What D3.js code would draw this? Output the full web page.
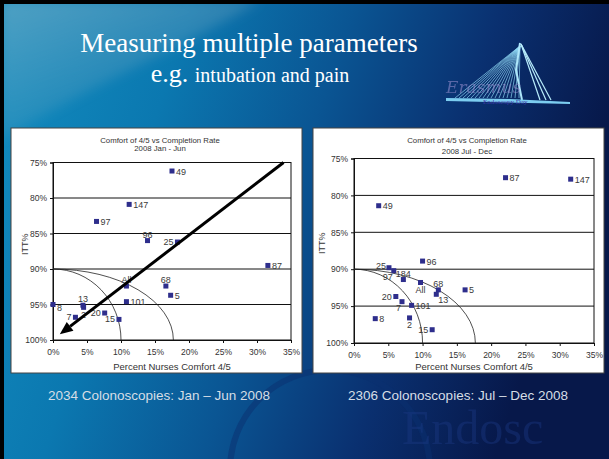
<!DOCTYPE html>
<html>
<head>
<meta charset="utf-8">
<script src="https://cdn.jsdelivr.net/npm/d3@7"></script>
<style>
body { margin: 0; background: #000; }
svg { display: block; }
text { font-family: "Liberation Sans", Arial, sans-serif; }
</style>
</head>
<body>
<script>
let width = 609, height = 459

// axis ticks (percent)
let xTicks = [0, 5, 10, 15, 20, 25, 30, 35]
let yTicks = [75, 80, 85, 90, 95, 100]

// Jan - Jun 2008: site, % nurses comfort 4/5, ITT %
let janSites   = ["49", "147", "97", "96", "25", "87", "68", "All", "5", "101", "13", "2", "8", "7", "20", "15"]
let janComfort = [17.5, 11.2, 6.4, 13.9, 18.3, 31.6, 16.6, 10.8, 17.3, 10.8, 4.4, 4.5, 0, 3.3, 7.6, 9.7]
let janItt     = [76.2, 80.9, 83.3, 86.0, 86.2, 89.5, 92.4, 92.4, 93.7, 94.6, 95.1, 95.4, 95.0, 96.8, 96.2, 97.1]

// Jul - Dec 2008
let julSites   = ["87", "147", "49", "96", "25", "97", "184", "All", "68", "5", "13", "20", "7", "101", "8", "2", "15"]
let julComfort = [22.1, 31.6, 3.6, 10.0, 5.1, 5.8, 7.2, 9.7, 12.3, 16.2, 12.0, 6.1, 7.0, 8.4, 3.1, 8.1, 11.4]
let julItt     = [77.6, 77.8, 81.4, 88.9, 89.8, 90.2, 91.4, 91.8, 92.8, 92.8, 93.4, 93.7, 94.4, 94.9, 96.7, 96.6, 98.2]

// reference curves: start at (0%, 90%) and meet 100% at these comfort values
let arcEnds = [10, 17.7]
let arcTop = 90

// arrow drawn on the first chart (comfort %, ITT %)
let arrowFrom = [33.9, 75.0]
let arrowTo = [1.0, 99.2]

let svg = d3.select("body").append("svg")
    .attr("width", width)
    .attr("height", height)

// ---------- slide background ----------
let defs = svg.append("defs")
let bg = defs.append("linearGradient").attr("id", "bg").attr("x1", 0).attr("x2", 1).attr("y1", 0).attr("y2", 0.25)
bg.append("stop").attr("offset", "0%").attr("stop-color", "#138ec0")
bg.append("stop").attr("offset", "30%").attr("stop-color", "#0b78b0")
bg.append("stop").attr("offset", "55%").attr("stop-color", "#0a5593")
bg.append("stop").attr("offset", "78%").attr("stop-color", "#0a3070")
bg.append("stop").attr("offset", "100%").attr("stop-color", "#07184a")

let glow = defs.append("linearGradient").attr("id", "glow").attr("x1", 0).attr("x2", 0.6).attr("y1", 0).attr("y2", 1)
glow.append("stop").attr("offset", "0%").attr("stop-color", "#9ab8c8").attr("stop-opacity", 0.45)
glow.append("stop").attr("offset", "100%").attr("stop-color", "#9ab8c8").attr("stop-opacity", 0)

let blur = defs.append("filter").attr("id", "soft")
blur.append("feGaussianBlur").attr("stdDeviation", 6)

svg.append("rect").attr("width", width).attr("height", height).attr("fill", "url(#bg)")
svg.append("path")
    .attr("d", "M0,0 L260,0 C200,40 120,70 0,140 Z")
    .attr("fill", "url(#glow)")
    .attr("filter", "url(#soft)")

// watermark
svg.append("circle").attr("cx", 330).attr("cy", 470).attr("r", 100)
    .attr("fill", "none").attr("stroke", "#0a2f70").attr("stroke-width", 6).attr("opacity", 0.5)
svg.append("text").attr("x", 402).attr("y", 444)
    .style("font-family", "'Liberation Serif', serif").style("font-size", "48px")
    .attr("fill", "#1c3a86").attr("opacity", 0.4)
    .text("Endosc")

// black frame on top and left
svg.append("rect").attr("width", width).attr("height", 4).attr("fill", "#000")
svg.append("rect").attr("width", 4).attr("height", height).attr("fill", "#000")

// ---------- title ----------
svg.append("text").attr("x", 249).attr("y", 52).attr("text-anchor", "middle")
    .style("font-family", "'Liberation Serif', 'Times New Roman', serif").style("font-size", "27px")
    .attr("fill", "#fff").text("Measuring multiple parameters")
let sub = svg.append("text").attr("x", 250).attr("y", 82).attr("text-anchor", "middle")
    .style("font-family", "'Liberation Serif', 'Times New Roman', serif").attr("fill", "#fff")
sub.append("tspan").style("font-size", "26px").text("e.g. ")
sub.append("tspan").style("font-size", "20px").text("intubation and pain")

// ---------- bridge logo ----------
let logo = svg.append("g").attr("class", "logo")
let deckXs = d3.range(455, 522, 4)
logo.selectAll("line.cable").data(deckXs).enter().append("line")
    .attr("x1", 520).attr("y1", 46)
    .attr("x2", d => d).attr("y2", 98)
    .attr("stroke", "#8fd8f4").attr("stroke-width", 0.8).attr("opacity", 0.85)
logo.selectAll("line.back").data([540, 546, 551]).enter().append("line")
    .attr("x1", 521).attr("y1", 44)
    .attr("x2", d => d).attr("y2", 100)
    .attr("stroke", "#b8ecfb").attr("stroke-width", 1.2)
logo.append("path").attr("d", "M520,43 L516,70 L522,100")
    .attr("fill", "none").attr("stroke", "#aee6fa").attr("stroke-width", 2)
logo.append("path").attr("d", "M446,98 L510,99 L570,102 L570,104 L446,101 Z")
    .attr("fill", "#7ccdf0")
logo.append("text").attr("x", 446).attr("y", 93)
    .style("font-family", "'DejaVu Serif', serif").style("font-style", "italic").style("font-size", "17px")
    .attr("fill", "#9a90d0").attr("opacity", 0.55).text("Erasmus")
logo.append("text").attr("x", 483).attr("y", 104)
    .style("font-family", "'Liberation Serif', serif").style("font-size", "7px")
    .attr("fill", "#3d3aa8").text("Endoscopy Day")

// ---------- charts ----------
let janPlace = { "96": "t", "25": "l", "68": "t", "All": "t", "13": "t", "2": "b", "8": "rb", "7": "l", "20": "l", "15": "l" }
let julPlace = { "25": "tl", "97": "bl", "184": "t", "All": "b", "68": "t", "13": "br", "20": "l", "7": "bl", "2": "b", "15": "l" }

function labelPos(p, x, y) {
    if (p == "l") return [x - 4, y + 3, "end"]
    if (p == "t") return [x, y - 3, "middle"]
    if (p == "b") return [x, y + 10.5, "middle"]
    if (p == "br") return [x + 2, y + 9, "start"]
    if (p == "bl") return [x - 1, y + 9, "end"]
    if (p == "tl") return [x - 3, y + 1, "end"]
    if (p == "rb") return [x + 4, y + 6, "start"]
    return [x + 4, y + 3.5, "start"]
}

function drawChart(cfg) {
    let g = svg.append("g")
    g.append("rect")
        .attr("x", cfg.box[0]).attr("y", cfg.box[1])
        .attr("width", cfg.box[2]).attr("height", cfg.box[3])
        .attr("fill", "#fff").attr("stroke", "#444").attr("stroke-width", 1)

    let x = d3.scaleLinear().domain([0, 35]).range(cfg.xr)
    let y = d3.scaleLinear().domain([75, 100]).range(cfg.yr)

    // gridlines
    g.selectAll("line.grid").data(yTicks.slice(1, -1)).enter().append("line")
        .attr("x1", cfg.xr[0]).attr("x2", cfg.xr[1])
        .attr("y1", d => y(d)).attr("y2", d => y(d))
        .attr("stroke", "#111").attr("stroke-width", 1)

    // plot frame
    g.append("rect")
        .attr("x", cfg.xr[0]).attr("y", cfg.yr[0])
        .attr("width", cfg.xr[1] - cfg.xr[0]).attr("height", cfg.yr[1] - cfg.yr[0])
        .attr("fill", "none").attr("stroke", "#111").attr("stroke-width", 1)

    g.append("g")
        .attr("transform", "translate(0," + cfg.yr[1] + ")")
        .call(d3.axisBottom(x).tickValues(xTicks).tickFormat(d => d + "%").tickSize(3).tickPadding(6))
    g.append("g")
        .attr("transform", "translate(" + cfg.xr[0] + ",0)")
        .call(d3.axisLeft(y).tickValues(yTicks).tickFormat(d => d + "%").tickSize(3).tickPadding(3))
    g.selectAll(".domain").attr("stroke", "#111")
    g.selectAll(".tick line").attr("stroke", "#111")
    g.selectAll(".tick text").attr("fill", "#333").style("font-size", "8.5px")
        .style("font-family", "'Liberation Sans', Arial, sans-serif")

    // chart titles
    g.append("text").attr("x", cfg.titleX).attr("y", cfg.box[1] + 15).attr("text-anchor", "middle")
        .style("font-size", "7.8px").attr("fill", "#333").text("Comfort of 4/5 vs Completion Rate")
    g.append("text").attr("x", cfg.titleX).attr("y", cfg.box[1] + cfg.sub).attr("text-anchor", "middle")
        .style("font-size", "7.8px").attr("fill", "#333").text(cfg.period)

    g.append("text").attr("x", (cfg.xr[0] + cfg.xr[1]) / 2).attr("y", cfg.box[1] + cfg.box[3] - 3.5)
        .attr("text-anchor", "middle").style("font-size", "9.5px").attr("fill", "#333")
        .text("Percent Nurses Comfort 4/5")
    g.append("text")
        .attr("transform", "translate(" + cfg.ittX + "," + y(86.5) + ") rotate(-90)")
        .attr("text-anchor", "middle").style("font-size", "9px").attr("fill", "#333")
        .text("ITT%")

    // reference curves
    let ry = y(100) - y(arcTop)
    g.selectAll("path.arc").data(arcEnds).enter().append("path")
        .attr("d", d => "M" + x(0) + "," + y(arcTop) + " A" + (x(d) - x(0)) + "," + ry + " 0 0 1 " + x(d) + "," + y(100))
        .attr("fill", "none").attr("stroke", "#222").attr("stroke-width", 0.8)

    let pts = cfg.sites.map((s, i) => ({ site: s, cx: x(cfg.comfort[i]), cy: y(cfg.itt[i]) }))

    g.selectAll("rect.pt").data(pts).enter().append("rect")
        .attr("x", d => d.cx - 2.5).attr("y", d => d.cy - 2.5)
        .attr("width", 5).attr("height", 5)
        .attr("fill", "#2e2e8c")

    g.selectAll("text.lbl").data(pts).enter().append("text")
        .each(function(d) {
            let p = labelPos(cfg.place[d.site] || "r", d.cx, d.cy)
            d3.select(this).attr("x", p[0]).attr("y", p[1]).attr("text-anchor", p[2])
        })
        .style("font-size", "9px").attr("fill", "#3a3a3a")
        .text(d => d.site)

    if (cfg.arrow) {
        let x1 = x(arrowFrom[0]), y1 = y(arrowFrom[1]), x2 = x(arrowTo[0]), y2 = y(arrowTo[1])
        let ang = Math.atan2(y2 - y1, x2 - x1)
        let len = 13, half = 5.5
        let bx = x2 - len * Math.cos(ang), by = y2 - len * Math.sin(ang)
        g.append("line")
            .attr("x1", x1).attr("y1", y1).attr("x2", bx).attr("y2", by)
            .attr("stroke", "#000").attr("stroke-width", 3)
        g.append("path")
            .attr("d", "M" + x2 + "," + y2 +
                " L" + (bx + half * Math.sin(ang)) + "," + (by - half * Math.cos(ang)) +
                " L" + (bx - half * Math.sin(ang)) + "," + (by + half * Math.cos(ang)) + " Z")
            .attr("fill", "#000")
    }

    svg.append("text").attr("x", cfg.captionX).attr("y", 400).attr("text-anchor", "middle")
        .style("font-size", "13.5px").attr("fill", "#d6dee6")
        .text(cfg.caption)
}

drawChart({
    box: [11, 128, 291, 245], xr: [53, 291], yr: [162.5, 340],
    titleX: 160, sub: 23, ittX: 28, period: "2008 Jan - Jun",
    sites: janSites, comfort: janComfort, itt: janItt, place: janPlace, arrow: true,
    captionX: 159, caption: "2034 Colonoscopies: Jan \u2013 Jun 2008"
})
drawChart({
    box: [313, 128, 291, 245], xr: [354, 594], yr: [158.5, 343],
    titleX: 467, sub: 26, ittX: 325, period: "2008 Jul - Dec",
    sites: julSites, comfort: julComfort, itt: julItt, place: julPlace, arrow: false,
    captionX: 458, caption: "2306 Colonoscopies: Jul \u2013 Dec 2008"
})
</script>
</body>
</html>
